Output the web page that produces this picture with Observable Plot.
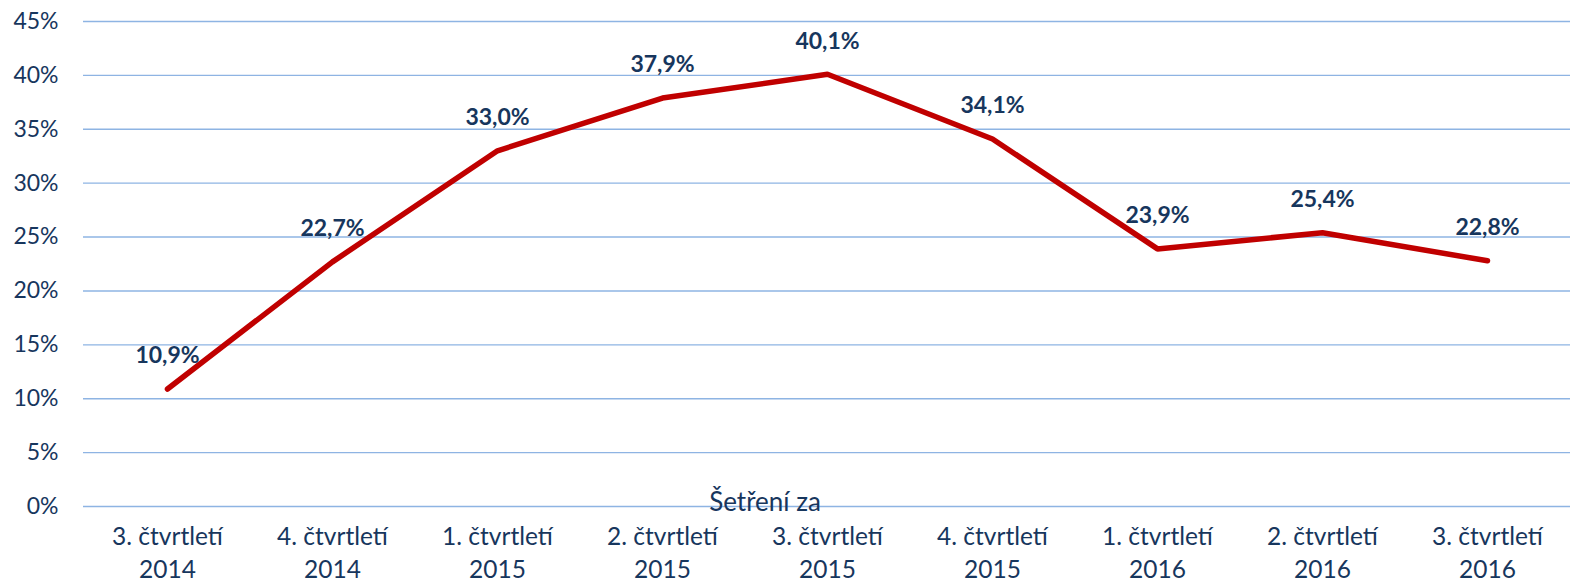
<!DOCTYPE html>
<html>
<head>
<meta charset="utf-8">
<script src="https://cdn.jsdelivr.net/npm/d3@7"></script>
<script src="https://cdn.jsdelivr.net/npm/@observablehq/plot@0.6"></script>
<style>
  html, body { margin: 0; padding: 0; background: #fff; }
  #chart { width: 1572px; height: 586px; }
</style>
</head>
<body>
<div id="chart"></div>
<script>
const quarters = ["3. čtvrtletí", "4. čtvrtletí", "1. čtvrtletí", "2. čtvrtletí", "3. čtvrtletí", "4. čtvrtletí", "1. čtvrtletí", "2. čtvrtletí", "3. čtvrtletí"];
const years = ["2014", "2014", "2015", "2015", "2015", "2015", "2016", "2016", "2016"];
const values = [10.9, 22.7, 33.0, 37.9, 40.1, 34.1, 23.9, 25.4, 22.8];
const yTicks = [0, 5, 10, 15, 20, 25, 30, 35, 40, 45];
const xTitle = "Šetření za";

const keys = quarters.map((q, i) => q + "\n" + years[i]);
const data = keys.map((k, i) => ({ key: k, value: values[i] }));

const navy = "#17365D";
const fmt = v => v.toFixed(1).replace(".", ",") + "%";

const chart = Plot.plot({
  width: 1572,
  height: 586,
  marginLeft: 83,
  marginRight: 2,
  marginTop: 21,
  marginBottom: 80,
  style: { fontFamily: "Lato, 'Open Sans', sans-serif", color: navy, background: "#fff" },
  x: { type: "point", domain: keys, padding: 0.5, label: null },
  y: { domain: [0, 45], label: null },
  marks: [
    Plot.gridY(yTicks, { stroke: "#8EB4E3", strokeOpacity: 1, strokeWidth: 1.4 }),
    Plot.axisY(yTicks, {
      tickSize: 0, tickPadding: 25, fontSize: 23, fill: navy,
      tickFormat: d => d + "%", label: null
    }),
    Plot.axisX({
      tickSize: 0, tickPadding: 16, fontSize: 24.5, fill: navy,
      lineHeight: 1.32, label: null
    }),
    Plot.text([xTitle], {
      frameAnchor: "bottom", dx: -62, dy: -4, lineAnchor: "middle",
      fontSize: 26, fill: navy
    }),
    Plot.line(data, {
      x: "key", y: "value", stroke: "#C00000", strokeWidth: 5.5,
      strokeLinecap: "round", strokeLinejoin: "miter"
    }),
    Plot.text(data, {
      x: "key", y: "value", text: d => fmt(d.value), dy: -33,
      fontSize: 23, fontWeight: "bold", fill: navy
    })
  ]
});
document.getElementById("chart").appendChild(chart);
</script>
</body>
</html>
